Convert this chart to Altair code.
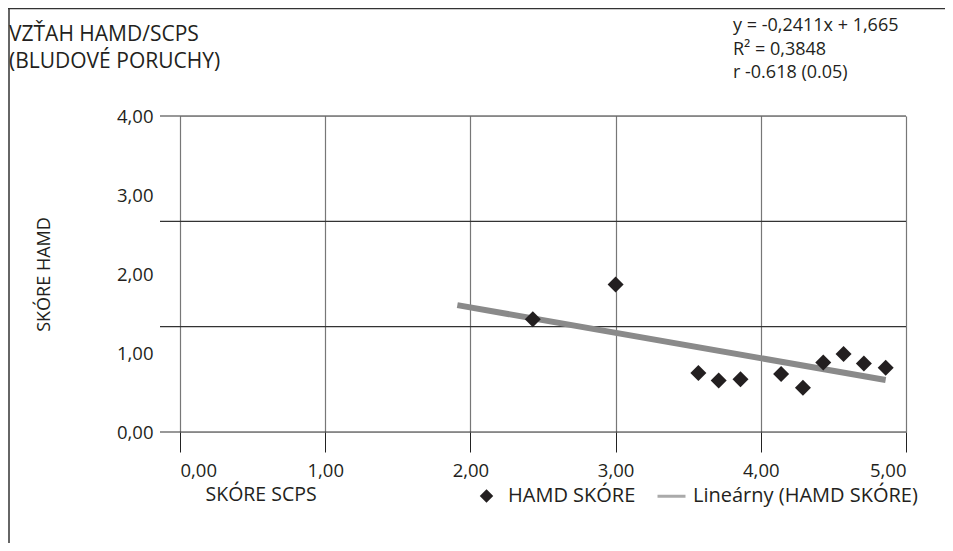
import altair as alt
import pandas as pd

# ---- data ----
scps = [2.43, 3.00, 3.57, 3.71, 3.86, 4.14, 4.29, 4.43, 4.57, 4.71, 4.86]
hamd = [1.07, 1.40, 0.56, 0.49, 0.50, 0.55, 0.42, 0.66, 0.74, 0.65, 0.61]
series_names = ["HAMD SKÓRE", "Lineárny (HAMD SKÓRE)"]

slope = -0.2411
intercept = 1.665
trend_x = [1.91, 4.86]

x_ticks = [0, 1, 2, 3, 4, 5]
y_grid = [0, 1, 2, 3]
y_label_pos = [0, 0.75, 1.5, 2.25, 3.0]
y_label_text = ["0,00", "1,00", "2,00", "3,00", "4,00"]

title_lines = ["VZŤAH HAMD/SCPS", "(BLUDOVÉ PORUCHY)"]
eq_lines = ["y = -0,2411x + 1,665", "R² = 0,3848", "r -0.618 (0.05)"]

W, H = 726, 316
FONT = "Open Sans"
TXT = "#231f20"

pts = pd.DataFrame({"x": scps, "y": hamd, "s": series_names[0]})
trend = pd.DataFrame({"x": trend_x, "y": [intercept + slope * v for v in trend_x]})
grid_df = pd.DataFrame({"y": y_grid})
eq_df = pd.DataFrame({"t": ["\n".join(eq_lines)]})
title_df = pd.DataFrame({"t": ["\n".join(title_lines)]})

label_expr = "[" + ",".join("'%s'" % t for t in y_label_text) + "][indexof([" + \
    ",".join(str(v) for v in y_label_pos) + "], datum.value)]"

xscale = alt.Scale(domain=[0, 5], nice=False)
yscale = alt.Scale(domain=[0, 3], nice=False)

xaxis = alt.Axis(
    values=x_ticks,
    labelExpr="replace(format(datum.value, '.2f'), '.', ',')",
    tickSize=20, tickColor="#222", domain=False,
    grid=True, gridColor="#777", gridWidth=1.2,
    labelFont=FONT, labelFontSize=18.5, labelColor=TXT, labelPadding=9,
    title="SKÓRE SCPS", titleFont=FONT, titleFontSize=19.5, titleFontWeight="normal",
    titleColor=TXT, titleX=25, titleY=62, titleAlign="left", titleBaseline="middle",
    titleAnchor="start",
)
yaxis = alt.Axis(
    values=y_label_pos, labelExpr=label_expr,
    ticks=False, grid=False, domain=False,
    labelFont=FONT, labelFontSize=18.5, labelColor=TXT, labelPadding=27,
    title="SKÓRE HAMD", titleFont=FONT, titleFontSize=18, titleFontWeight="normal",
    titleColor=TXT, titleX=-136, titleBaseline="middle",
)

legend = alt.Legend(
    title=None, orient="none", legendX=291, legendY=364, direction="horizontal",
    labelFont=FONT, labelFontSize=20, labelColor=TXT, labelLimit=0,
    symbolSize=784, symbolStrokeWidth=3, columnPadding=15, labelOffset=6,
)

diamond_path = "M0,-0.33L0.33,0L0,0.33L-0.33,0Z"
stroke_path = "M-1,0L1,0"

hgrid = alt.Chart(grid_df).mark_rule(color="#333", strokeWidth=1.2).encode(
    y=alt.Y("y:Q", scale=yscale, axis=yaxis),
    x=alt.value(-20), x2=alt.value(W),
)

points = alt.Chart(pts).mark_point(filled=True, opacity=1, strokeWidth=0, size=2350).encode(
    x=alt.X("x:Q", scale=xscale, axis=xaxis),
    y=alt.Y("y:Q", scale=yscale, axis=yaxis),
    shape=alt.Shape("s:N", scale=alt.Scale(domain=series_names, range=[diamond_path, stroke_path]),
                    legend=legend),
    color=alt.Color("s:N", scale=alt.Scale(domain=series_names, range=[TXT, "#aaaaaa"]),
                    legend=legend),
    stroke=alt.Stroke("s:N", scale=alt.Scale(domain=series_names, range=[TXT, "#aaaaaa"]),
                      legend=legend),
)

line = alt.Chart(trend).mark_line(color="#8a8a8a", strokeWidth=6).encode(
    x=alt.X("x:Q", scale=xscale, axis=xaxis),
    y=alt.Y("y:Q", scale=yscale, axis=yaxis),
)

eq = alt.Chart(eq_df).mark_text(
    align="left", baseline="middle", font=FONT, fontSize=18, color=TXT,
    lineBreak="\n", lineHeight=23.5,
).encode(x=alt.value(553), y=alt.value(-90), text="t:N")

title = alt.Chart(title_df).mark_text(
    align="left", baseline="middle", font=FONT, fontSize=21, color=TXT,
    lineBreak="\n", lineHeight=27,
).encode(x=alt.value(-171), y=alt.value(-81), text="t:N")

frame_top = alt.Chart(grid_df.head(1)).mark_rule(color="#333", strokeWidth=1.5).encode(
    x=alt.value(-172), x2=alt.value(W + 39), y=alt.value(-107.5))
frame_left = alt.Chart(grid_df.head(1)).mark_rule(color="#333", strokeWidth=1.5).encode(
    x=alt.value(-171), y=alt.value(-108), y2=alt.value(H + 111))

chart = alt.layer(hgrid, line, points, eq, title, frame_top, frame_left).properties(
    width=W, height=H,
    autosize=alt.AutoSizeParams(type="none"),
    padding={"left": 172, "top": 108, "right": 39, "bottom": 111},
).configure_view(stroke="#222", strokeWidth=1.5).configure(background="white")

chart.save("out.html", embed_options={"renderer": "svg", "actions": False})
